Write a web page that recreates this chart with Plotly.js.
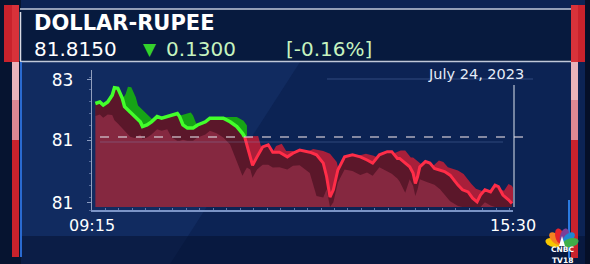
<!DOCTYPE html>
<html>
<head>
<meta charset="utf-8">
<script src="https://cdn.plot.ly/plotly-3.0.1.min.js"></script>
<style>
html,body{margin:0;padding:0;background:#0c2354;}
#chart{width:590px;height:264px;}
</style>
</head>
<body>
<div id="chart"></div>
<script>
// ---- data ----
const TITLE = 'DOLLAR-RUPEE';
const LAST_PRICE = '81.8150';
const CHANGE = '0.1300';
const CHANGE_PCT = '[-0.16%]';
const DATE_LABEL = 'July 24, 2023';
const PREV_CLOSE = 81.945;
const X_TICK_TIMES = ['09:15', '15:30'];
const Y_TICK_VALUES = [82.054, 81.939, 81.819];
const Y_TICK_LABELS = ['83', '81', '81'];
const TIMES = ['09:18','09:22','09:25','09:29','09:33','09:35','09:38','09:42','09:44','09:49',
  '09:53','09:58','10:00','10:04','10:08','10:13','10:17','10:22','10:26','10:31',
  '10:33','10:36','10:40','10:45','10:49','10:56','11:00','11:06','11:12','11:18',
  '11:24','11:29','11:31',
  '11:33','11:36','11:38','11:42','11:47','11:52','11:56','12:02','12:09','12:14',
  '12:20','12:29','12:35','12:41','12:44','12:47','12:50','12:54','13:00','13:07',
  '13:14','13:20','13:25','13:31','13:38','13:42','13:47','13:49','13:54','13:58',
  '14:01','14:03','14:05','14:07','14:12','14:16','14:20','14:25','14:29','14:34',
  '14:37','14:41','14:45','14:50','14:54','14:58','15:01','15:05','15:10','15:14',
  '15:17','15:21','15:26','15:29'];
const RATES = [82.009,82.012,82.006,82.012,82.025,82.039,82.038,82.019,82.003,81.993,
  81.984,81.974,81.965,81.968,81.974,81.984,81.981,81.984,81.987,81.990,
  81.984,81.968,81.962,81.962,81.968,81.974,81.981,81.981,81.981,81.974,
  81.965,81.952,81.945,
  81.930,81.907,81.891,81.907,81.926,81.930,81.916,81.916,81.907,81.914,
  81.920,81.916,81.911,81.895,81.869,81.830,81.844,81.882,81.907,81.911,
  81.907,81.901,81.895,81.911,81.917,81.917,81.904,81.904,81.895,81.888,
  81.876,81.856,81.869,81.888,81.898,81.895,81.885,81.882,81.879,81.872,
  81.863,81.853,81.844,81.840,81.828,81.821,81.834,81.844,81.840,81.853,
  81.850,81.834,81.825,81.818];

// ---- helpers ----
function toMin(s){const p=s.split(':');return (+p[0])*60+(+p[1]) - (9*60+15);}
const T = TIMES.map(toMin);
const XT = X_TICK_TIMES.map(toMin);
const Y_MIN = 81.8054, Y_MAX = 82.0731;
const BASE = 81.8112;
const cross = RATES.findIndex(v=> v<=PREV_CLOSE);
const gT = T.slice(0,cross+1), gV = RATES.slice(0,cross+1);
const rT = T.slice(cross), rV = RATES.slice(cross);

// pixel -> paper helpers for decoration
const L=92, R=513, TOP=70, B=210;
const X = px => (px-L)/(R-L);
const Y = py => (B-py)/(B-TOP);

// 3-D look: ribbon = copy shifted right/up, shadow = copy shifted left/down
const RIB_DT = 12, RIB_DV = 0.002;
const SH_DT = 10, SH_DV = 0.024;
function valueAt(t){
  if(t<=T[0]) return RATES[0];
  if(t>=T[T.length-1]) return RATES[RATES.length-1];
  let i=1; while(T[i]<t) i++;
  const f=(t-T[i-1])/(T[i]-T[i-1]);
  return RATES[i-1]+f*(RATES[i]-RATES[i-1]);
}
const shadowLow = T.map((t,i)=>Math.max(Math.min(RATES[i], valueAt(t+SH_DT))-SH_DV, BASE));
const shiftT = (arr,d,cap)=>arr.map(t=>Math.min(t+d, cap==null?Infinity:cap));
const shiftV = (arr,d)=>arr.map(v=>v+d);
const tCross = T[cross];

const traces = [
  {x:shiftT(rT,RIB_DT), y:shiftV(rV,RIB_DV), mode:'lines', line:{width:0}},
  {x:rT, y:rV, mode:'lines', fill:'tonexty', fillcolor:'#a81f3a', line:{width:0}},
  {x:shiftT(gT,RIB_DT,tCross+2), y:shiftV(gV,RIB_DV), mode:'lines', line:{width:0}},
  {x:gT, y:gV, mode:'lines', fill:'tonexty', fillcolor:'#16a316', line:{width:0}},
  {x:[T[0],T[T.length-1]], y:[BASE,BASE], mode:'lines', line:{width:0}},
  {x:T, y:RATES, mode:'lines', fill:'tonexty', fillcolor:'#852840', line:{width:0}},
  {x:T, y:shadowLow, mode:'lines', line:{width:0}},
  {x:T, y:RATES, mode:'lines', fill:'tonexty', fillcolor:'rgba(50,6,20,0.5)', line:{width:0}},
  {x:gT, y:gV, mode:'lines', line:{color:'#43ff2b', width:3.5}},
  {x:rT, y:rV, mode:'lines', line:{color:'#ff2d48', width:3}}
].map(t=>Object.assign({showlegend:false, hoverinfo:'skip', type:'scatter'}, t));

function rectPx(x0,y0,x1,y1,color,layer,opacity){
  return {type:'rect', xref:'paper', yref:'paper', x0:X(x0), x1:X(x1), y0:Y(y0), y1:Y(y1),
    fillcolor:color, line:{width:0}, layer:layer||'below', opacity:opacity==null?1:opacity};
}
function linePx(x0,y0,x1,y1,color,width,dash,layer){
  return {type:'line', xref:'paper', yref:'paper', x0:X(x0), x1:X(x1), y0:Y(y0), y1:Y(y1),
    line:{color:color, width:width, dash:dash||'solid'}, layer:layer||'above'};
}
function polyPx(pts,color,layer){
  const d = pts.map((p,i)=>(i?'L':'M')+X(p[0]).toFixed(5)+','+Y(p[1]).toFixed(5)).join(' ')+' Z';
  return {type:'path', xref:'paper', yref:'paper', path:d, fillcolor:color, line:{width:0}, layer:layer||'below'};
}
function feather(cx,cy,angDeg,dist,a,b,color){
  const ang = angDeg*Math.PI/180;
  const ex = cx + dist*Math.cos(ang), ey = cy - dist*Math.sin(ang);
  const pts=[];
  for(let k=0;k<24;k++){
    const th = k/24*2*Math.PI;
    const lx = a*Math.cos(th), ly = b*Math.sin(th);
    pts.push([ex + lx*Math.cos(ang) - ly*Math.sin(ang), ey - (lx*Math.sin(ang) + ly*Math.cos(ang))]);
  }
  return polyPx(pts,color,'above');
}

const shapes = [
  // background decoration
  rectPx(0,0,21,264,'#061430'),
  polyPx([[60,62],[300,62],[170,264],[21,264],[21,62]],'rgba(70,120,210,0.10)'),
  polyPx([[21,236],[590,236],[590,264],[21,264]],'rgba(4,14,40,0.45)'),
  rectPx(585,0,590,264,'#050f28'),
  // header band
  rectPx(20,9,571,62,'#071a3e'),
  linePx(20,9,571,9,'rgba(225,232,245,0.85)',1.5),
  linePx(20,61.5,571,61.5,'rgba(225,232,245,0.85)',1.5),
  // reference lines
  {type:'line', xref:'paper', yref:'y', x0:X(100), x1:X(528), y0:PREV_CLOSE, y1:PREV_CLOSE,
    line:{color:'rgba(215,205,215,0.8)', width:1.3, dash:'dash'}, layer:'above'},
  linePx(100,142,503,142,'rgba(130,160,215,0.3)',1,'solid','above'),
  linePx(327,79,533,79,'rgba(120,150,210,0.35)',1,'solid','below'),
  linePx(514,85,514,207,'rgba(220,225,235,0.85)',1.2),
  // side bars
  rectPx(4,5,12,62,'#c9222c','above'),
  rectPx(12,5,19,62,'#d8323a','above'),
  rectPx(12,62,19,100,'#e9b3bb','above'),
  rectPx(12,100,19,140,'#de8894','above'),
  rectPx(12,140,19,257,'#c9222c','above'),
  linePx(20.5,12,20.5,61,'rgba(240,240,245,0.9)',1.5),
  linePx(21,62,21,257,'#2a6ad0',2),
  rectPx(571,5,578,62,'#d8323a','above'),
  rectPx(571,62,578,100,'#e9b3bb','above'),
  rectPx(571,100,578,140,'#de8894','above'),
  rectPx(571,140,578,258,'#c9222c','above'),
  rectPx(578,5,585,62,'#c9222c','above'),
  linePx(569,200,569,258,'#2a7ae0',2),
];
// peacock
const peacockColors = ['#f7c600','#f58220','#e8232c','#7a3f98','#1e88d2','#3fae49'];
const angles = [165,135,105,75,45,15];
peacockColors.forEach((c,i)=>shapes.push(feather(562,245,angles[i],9,8,4.3,c)));
shapes.push(polyPx([[559,246],[565,246],[562,236]],'#ffffff','above'));

const F = (size,color,weight)=>({family:'DejaVu Sans', size:size, color:color, weight:weight||'normal'});
const annotations = [
  {text:TITLE, x:X(33), y:Y(35.6), yanchor:'bottom', font:F(21,'#ffffff','bold')},
  {text:LAST_PRICE, x:X(33), y:Y(36.4), yanchor:'top', font:F(20,'#ffffff')},
  {text:'▼', x:X(142), y:Y(38.5), yanchor:'top', font:F(17,'#34d22c')},
  {text:CHANGE, x:X(165), y:Y(36.4), yanchor:'top', font:F(20,'#c6f3bf')},
  {text:CHANGE_PCT, x:X(285), y:Y(36.4), yanchor:'top', font:F(20,'#c6f3bf')},
  {text:DATE_LABEL, x:X(427), y:Y(74), font:F(14.5,'#e6ecf8')},
  {text:'CNBC', x:X(562), y:Y(254.5), xanchor:'center', yanchor:'bottom', font:F(7.5,'#ffffff','bold')},
  {text:'TV18', x:X(562), y:Y(254.5), xanchor:'center', yanchor:'top', font:F(7.5,'#ffffff','bold')},
].map(a=>Object.assign({xref:'paper', yref:'paper', xanchor:'left', yanchor:'middle', showarrow:false, borderpad:0}, a));

const layout = {
  width:590, height:264,
  margin:{l:L, r:590-R, t:TOP, b:264-B, pad:0},
  paper_bgcolor:'#0c2354', plot_bgcolor:'rgba(0,0,0,0)',
  showlegend:false,
  xaxis:{range:[0,375], tickmode:'array', tickvals:XT, ticktext:X_TICK_TIMES,
    showgrid:false, zeroline:false, showline:true, linecolor:'rgba(150,175,225,0.8)', linewidth:1.5,
    ticks:'inside', ticklen:3, tickcolor:'rgba(180,195,230,0.8)',
    minor:{tick0:0, dtick:12, ticks:'inside', ticklen:2, tickcolor:'rgba(150,175,225,0.6)'},
    tickfont:{family:'DejaVu Sans', size:16, color:'#ffffff'}, fixedrange:true},
  yaxis:{range:[Y_MIN, Y_MAX], tickmode:'array', tickvals:Y_TICK_VALUES, ticktext:Y_TICK_LABELS,
    showgrid:false, zeroline:false, showline:true, linecolor:'rgba(200,210,230,0.7)', linewidth:1.3,
    ticks:'outside', ticklen:4, tickcolor:'rgba(170,185,215,0.8)', ticklabelstandoff:10,
    minor:{tick0:Y_MIN, dtick:0.023, ticks:'outside', ticklen:2, tickcolor:'rgba(150,170,210,0.5)'},
    tickfont:{family:'DejaVu Sans', size:17, color:'#ffffff'}, fixedrange:true},
  shapes:shapes, annotations:annotations
};
Plotly.newPlot('chart', traces, layout, {displayModeBar:false, staticPlot:true});
</script>
</body>
</html>
